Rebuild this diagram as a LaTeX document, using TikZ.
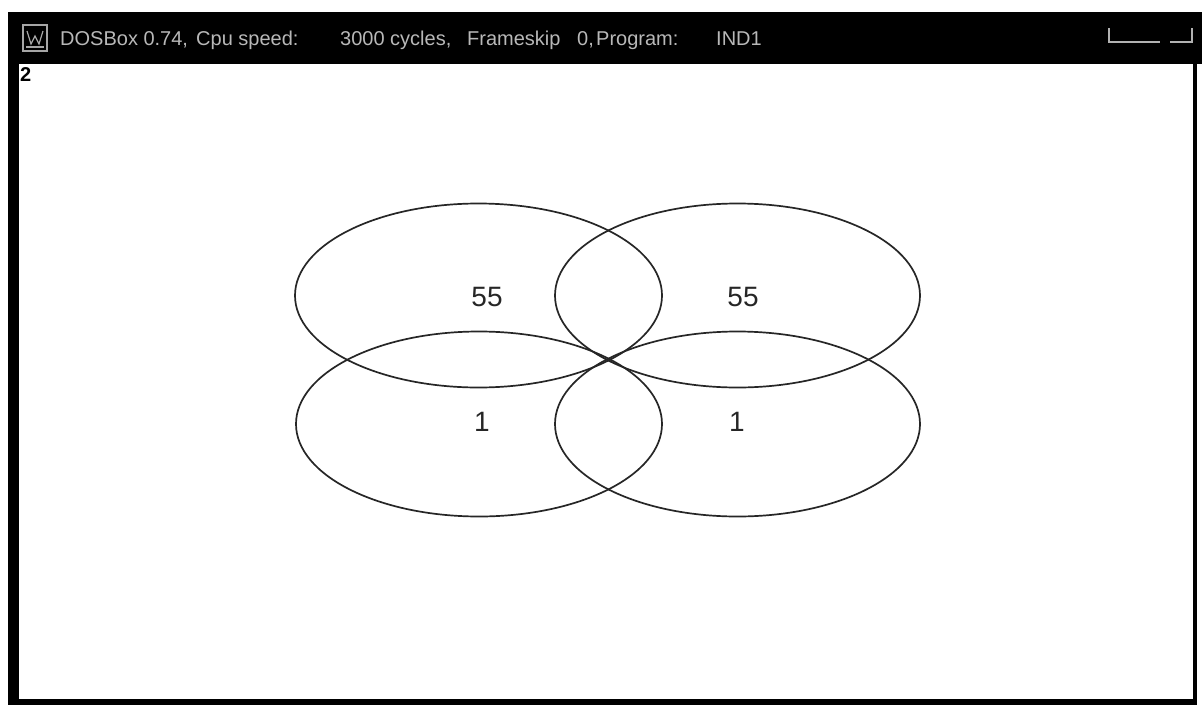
\documentclass[tikz,border=0pt]{standalone}
\usepackage{fontspec}
\setmainfont{Liberation Sans}
\begin{document}
\begin{tikzpicture}[x=1pt,y=-1pt,
  venn/.style={draw=black!85,line width=1.7pt},
  title/.style={anchor=base west,inner sep=0pt,text=white!72!black,font=\fontsize{20}{22}\selectfont},
  digit/.style={inner sep=0pt,text=black!85,font=\fontsize{28}{30}\selectfont},
  frameline/.style={fill=black,draw=none},
  btn/.style={draw=white!70!black,line width=1.2pt}]
\useasboundingbox (0,0) rectangle (1202,707);
\fill[white] (0,0) rectangle (1202,707);
% window frame
\fill[frameline] (8,12) rectangle (1202,64);
\fill[frameline] (8,12) rectangle (19,705);
\fill[frameline] (8,699) rectangle (1197,705);
\fill[frameline] (1193,64) rectangle (1197,705);
% icon
\draw[white!65!black,line width=1.2pt] (23,25) rectangle (47,51);
\draw[white!65!black,line width=1.2pt] (27,31) -- (31,44) -- (35,36) -- (39,44) -- (43,31);
\draw[white!65!black,line width=1.2pt] (26,47) -- (44,47);
% title text
\node[title] (t1) at (60,45) {DOSBox 0.74,};
\node[title] (t2) at (196,45) {Cpu speed:};
\node[title] (t3) at (340,45) {3000 cycles,};
\node[title] (t4) at (467,45) {Frameskip};
\node[title] (t5) at (577,45) {0,};
\node[title] (t6) at (596,45) {Program:};
\node[title] (t7) at (716,45) {IND1};
% buttons
\draw[btn] (1109,28) -- (1109,42) -- (1160,42);
\draw[btn] (1170,42) -- (1192,42) -- (1192,28);
% corner label
\node[inner sep=0pt,anchor=north west,font=\bfseries\fontsize{20}{22}\selectfont] (two) at (20,67) {2};
% ellipses
\draw[venn] (478.5,295.5) ellipse [x radius=183.5,y radius=92];
\draw[venn] (737.5,295.5) ellipse [x radius=182.5,y radius=92];
\draw[venn] (479,424) ellipse [x radius=183,y radius=92.5];
\draw[venn] (737.5,424) ellipse [x radius=182.5,y radius=92.5];
% labels
\node[digit] (a) at (487,297) {55};
\node[digit] (b) at (743,297) {55};
\node[digit] (c) at (482,422) {1};
\node[digit] (d) at (737,422) {1};
\end{tikzpicture}
\end{document}
